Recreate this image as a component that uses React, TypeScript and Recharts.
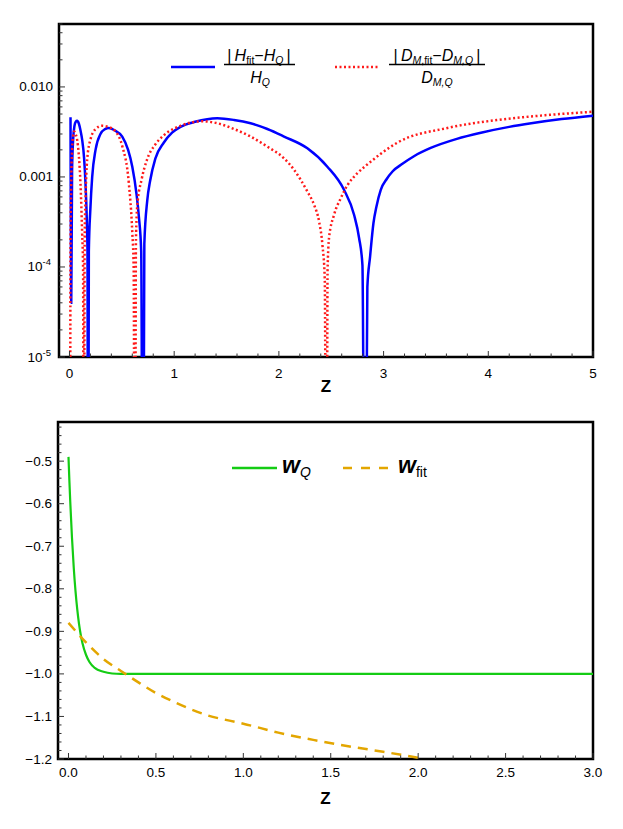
import React from "react";
import { LineChart, Line, XAxis, YAxis, ReferenceArea } from "recharts";

// ---- top panel: relative errors (log scale) ----
const hZ = [
  0.01, 0.017, 0.025, 0.035, 0.048, 0.06, 0.073, 0.09, 0.105, 0.121, 0.14, 0.153, 0.165, 0.172, 0.178,
  0.185, 0.2, 0.217, 0.249, 0.296, 0.34, 0.376, 0.43, 0.504, 0.56, 0.6, 0.64, 0.663, 0.685, 0.702,
  0.715, 0.743, 0.77, 0.82, 0.9, 0.98, 1.06, 1.2, 1.412, 1.571, 1.73, 1.89, 2.049, 2.272, 2.463, 2.622, 2.718, 2.766, 2.798, 2.822,
  2.845, 2.871, 2.903, 2.932, 2.973, 3.03, 3.085, 3.18, 3.29, 3.45, 3.7, 3.93, 4.2, 4.41, 4.7, 5.0,
];
const hErr = [
  4.6e-3, 4.0e-5, 1.2e-3, 2.6e-3, 3.7e-3, 4.1e-3, 4.2e-3, 3.9e-3, 3.3e-3, 2.6e-3, 1.6e-3, 8.5e-4, 3.5e-4, 1.5e-4, 1e-8,
  1.5e-4, 4.5e-4, 1.0e-3, 2.0e-3, 3.0e-3, 3.4e-3, 3.5e-3, 3.3e-3, 2.8e-3, 2.0e-3, 1.3e-3, 6.5e-4, 3.6e-4, 1.5e-4, 1e-8,
  1.8e-4, 5.5e-4, 9.0e-4, 1.6e-3, 2.4e-3, 3.1e-3, 3.6e-3, 4.1e-3, 4.49e-3, 4.3e-3, 3.95e-3, 3.41e-3, 2.81e-3, 2.08e-3, 1.3e-3, 7.2e-4, 3.8e-4, 2.1e-4, 1.05e-4, 1e-8,
  6e-5, 1.3e-4, 3.06e-4, 4.7e-4, 7.2e-4, 9.5e-4, 1.15e-3, 1.4e-3, 1.7e-3, 2.1e-3, 2.65e-3, 3.1e-3, 3.6e-3, 3.95e-3, 4.4e-3, 4.8e-3,
];

const dZ = [
  0.005, 0.01, 0.016, 0.025, 0.035, 0.045, 0.058, 0.073, 0.09, 0.105, 0.121, 0.13, 0.137,
  0.145, 0.153, 0.169, 0.2, 0.249, 0.31, 0.37, 0.44, 0.504, 0.567, 0.6, 0.613, 0.625,
  0.635, 0.647, 0.69, 0.74, 0.82, 0.9, 1.06, 1.27, 1.412, 1.571, 1.73, 1.89, 2.049, 2.145, 2.208, 2.272, 2.336, 2.384, 2.416, 2.438, 2.455,
  2.465, 2.479, 2.527, 2.591, 2.655, 2.75, 2.878, 2.97, 3.13, 3.61, 4.09, 4.5, 5.0,
];
const dErr = [
  1e-8, 1.5e-4, 8e-4, 2.0e-3, 2.9e-3, 3.2e-3, 3.0e-3, 2.6e-3, 1.7e-3, 8.5e-4, 2.4e-4, 1.0e-4, 1e-8,
  2.0e-4, 5.5e-4, 1.55e-3, 2.6e-3, 3.4e-3, 3.7e-3, 3.6e-3, 3.2e-3, 2.2e-3, 8.5e-4, 2.4e-4, 1.0e-4, 1e-8,
  2.0e-4, 4.7e-4, 9.5e-4, 1.55e-3, 2.3e-3, 2.9e-3, 3.7e-3, 4.15e-3, 3.95e-3, 3.41e-3, 2.81e-3, 2.17e-3, 1.61e-3, 1.2e-3, 9.3e-4, 6.9e-4, 4.9e-4, 3.2e-4, 1.75e-4, 7.5e-5, 1e-8,
  9e-5, 2.1e-4, 3.8e-4, 5.8e-4, 8.1e-4, 1.1e-3, 1.48e-3, 1.8e-3, 2.4e-3, 3.5e-3, 4.3e-3, 4.8e-3, 5.3e-3,
];

// ---- bottom panel: equation of state ----
const wQZ = [0, 0.005, 0.01, 0.02, 0.03, 0.04, 0.05, 0.06, 0.07, 0.08, 0.1, 0.12, 0.15, 0.2, 0.25, 0.3, 3.0];
const wQ = [-0.49, -0.545, -0.595, -0.68, -0.75, -0.805, -0.848, -0.882, -0.908, -0.928, -0.955, -0.972, -0.986, -0.995, -0.999, -1.0, -1.0];

const wFitZ = [0, 0.1, 0.2, 0.3, 0.4, 0.5, 0.6, 0.7, 0.8, 0.9, 1.0, 1.2, 1.4, 1.6, 1.8, 2.0];
const wFit = [-0.88, -0.926, -0.965, -0.993, -1.02, -1.045, -1.065, -1.083, -1.098, -1.108, -1.117, -1.138, -1.155, -1.17, -1.183, -1.197];

const topXMajor = [0, 1, 2, 3, 4, 5];
const topYMajor = [1e-5, 1e-4, 1e-3, 1e-2];
const botXMajor = [0, 0.5, 1, 1.5, 2, 2.5, 3];
const botYMajor = [-1.2, -1.1, -1.0, -0.9, -0.8, -0.7, -0.6, -0.5];

const hData = hZ.map((z, i) => ({ z, v: hErr[i] }));
const dData = dZ.map((z, i) => ({ z, v: dErr[i] }));
const wQData = wQZ.map((z, i) => ({ z, v: wQ[i] }));
const wFitData = wFitZ.map((z, i) => ({ z, v: wFit[i] }));

// minor tick positions
const topXTicks: number[] = [];
for (let i = 0; i <= 25; i++) topXTicks.push(+(i * 0.2).toFixed(2));
const topYTicks: number[] = [];
for (let e = -5; e <= -2; e++) {
  for (let m = 1; m <= 9; m++) {
    const v = +(m * Math.pow(10, e)).toPrecision(3);
    if (v <= 0.05) topYTicks.push(v);
  }
}
const botXTicks: number[] = [];
for (let i = 0; i <= 30; i++) botXTicks.push(+(i * 0.1).toFixed(2));
const botYTicks: number[] = [];
for (let i = 0; i <= 39; i++) botYTicks.push(+(-1.2 + i * 0.02).toFixed(2));

const FONT = "'Liberation Sans', Arial, Helvetica, sans-serif";
const BLUE = "#0000ff";
const RED = "#ff1a1a";
const GREEN = "#14cc14";
const ORANGE = "#e3a600";
const TS = "\u2009";

const isMajor = (list: number[], v: number) => list.some((m) => Math.abs(m - v) < 1e-9);

const XTick = (props: any) => {
  const { x, y, payload, majors, dyLabel, fmt } = props;
  const major = isMajor(majors, payload.value);
  return (
    <g>
      <line x1={x} x2={x} y1={y} y2={y - (major ? 6 : 3.5)} stroke="#333" strokeWidth={1} />
      {major && (
        <text x={x} y={y + dyLabel} textAnchor="middle" fontSize={13.5} fontFamily={FONT} fill="#000">
          {fmt(payload.value)}
        </text>
      )}
    </g>
  );
};

const LogYTick = (props: any) => {
  const { x, y, payload } = props;
  const v = payload.value;
  const major = isMajor(topYMajor, v);
  let label: React.ReactNode = null;
  if (major) {
    if (v < 5e-4) {
      const exp = Math.round(Math.log10(v));
      label = (
        <text x={x - 8} y={y + 4.5} textAnchor="end" fontSize={13.5} fontFamily={FONT} fill="#000">
          10
          <tspan dy={-6} fontSize={9.5}>
            {String(exp)}
          </tspan>
        </text>
      );
    } else {
      label = (
        <text x={x - 6} y={y + 4.5} textAnchor="end" fontSize={13.5} fontFamily={FONT} fill="#000">
          {v.toFixed(3)}
        </text>
      );
    }
  }
  return (
    <g>
      <line x1={x} x2={x + (major ? 6 : 3.5)} y1={y} y2={y} stroke="#333" strokeWidth={1} />
      {label}
    </g>
  );
};

const LinYTick = (props: any) => {
  const { x, y, payload } = props;
  const major = isMajor(botYMajor, payload.value);
  return (
    <g>
      <line x1={x} x2={x + (major ? 6 : 3.5)} y1={y} y2={y} stroke="#333" strokeWidth={1} />
      {major && (
        <text x={x - 6} y={y + 4.5} textAnchor="end" fontSize={13.5} fontFamily={FONT} fill="#000">
          {payload.value.toFixed(1).replace("-", "\u2212")}
        </text>
      )}
    </g>
  );
};

const TopLegend = () => (
  <g fontFamily={FONT} fill="#000">
    <line x1={171} x2={215} y1={67} y2={67} stroke={BLUE} strokeWidth={2.5} />
    <text x={259} y={61} textAnchor="middle" fontSize={16}>
      {"|" + TS}
      <tspan fontStyle="italic">H</tspan>
      <tspan fontSize={10.5} dy={3}>fit</tspan>
      <tspan dy={-3}>{"\u2212"}</tspan>
      <tspan fontStyle="italic">H</tspan>
      <tspan fontSize={10.5} dy={3} fontStyle="italic">Q</tspan>
      <tspan dy={-3}>{TS + "|"}</tspan>
    </text>
    <line x1={224} x2={295} y1={64.5} y2={64.5} stroke="#000" strokeWidth={1.4} />
    <text x={260} y={83} textAnchor="middle" fontSize={16}>
      <tspan fontStyle="italic">H</tspan>
      <tspan fontSize={10.5} dy={3} fontStyle="italic">Q</tspan>
    </text>

    <line x1={335} x2={380} y1={67} y2={67} stroke={RED} strokeWidth={2.5} strokeDasharray="2 2.5" />
    <text x={437} y={61} textAnchor="middle" fontSize={16}>
      {"|" + TS}
      <tspan fontStyle="italic">D</tspan>
      <tspan fontSize={10.5} dy={3}>
        <tspan fontStyle="italic">M</tspan>,fit
      </tspan>
      <tspan dy={-3}>{"\u2212"}</tspan>
      <tspan fontStyle="italic">D</tspan>
      <tspan fontSize={10.5} dy={3} fontStyle="italic">M,Q</tspan>
      <tspan dy={-3}>{TS + "|"}</tspan>
    </text>
    <line x1={389} x2={485} y1={64.5} y2={64.5} stroke="#000" strokeWidth={1.4} />
    <text x={437} y={83} textAnchor="middle" fontSize={16}>
      <tspan fontStyle="italic">D</tspan>
      <tspan fontSize={10.5} dy={3} fontStyle="italic">M,Q</tspan>
    </text>
  </g>
);

const BottomLegend = () => (
  <g fontFamily={FONT} fill="#000">
    <line x1={232} x2={277} y1={68} y2={68} stroke={GREEN} strokeWidth={2.5} />
    <text x={282} y={73} fontSize={23}>
      <tspan fontStyle="italic" fontWeight="bold">w</tspan>
      <tspan fontSize={14} dy={4} fontStyle="italic">Q</tspan>
    </text>
    <line x1={343} x2={391} y1={68} y2={68} stroke={ORANGE} strokeWidth={2.5} strokeDasharray="9 9" />
    <text x={398} y={73} fontSize={23}>
      <tspan fontStyle="italic" fontWeight="bold">w</tspan>
      <tspan fontSize={14} dy={4}>fit</tspan>
    </text>
  </g>
);

const zLabel = (offset: number) => ({
  value: "Z",
  position: "insideBottom" as const,
  offset,
  style: { fontSize: 17, fontWeight: "bold", fontFamily: FONT, fill: "#000" },
});

export default function App() {
  return (
    <div style={{ position: "absolute", left: 0, top: 0, width: 623, height: 829, background: "#fff" }}>
      <LineChart width={623} height={400} margin={{ top: 24, right: 30, bottom: 0, left: 0 }}>
        <XAxis
          dataKey="z"
          type="number"
          domain={[-0.1, 5]}
          allowDataOverflow
          ticks={topXTicks}
          interval={0}
          height={43}
          axisLine={false}
          tickLine={false}
          tickSize={0}
          tickMargin={0}
          tick={(p: any) => <XTick {...p} majors={topXMajor} dyLabel={21} fmt={(v: number) => String(v)} />}
          label={zLabel(8)}
        />
        <YAxis
          type="number"
          scale="log"
          domain={[1e-5, 0.05]}
          allowDataOverflow
          ticks={topYTicks}
          interval={0}
          width={59}
          axisLine={false}
          tickLine={false}
          tickSize={0}
          tickMargin={0}
          tick={(p: any) => <LogYTick {...p} />}
        />
        <Line
          data={hData}
          dataKey="v"
          type="monotone"
          stroke={BLUE}
          strokeWidth={2.5}
          dot={false}
          activeDot={false}
          isAnimationActive={false}
        />
        <Line
          data={dData}
          dataKey="v"
          type="monotone"
          stroke={RED}
          strokeWidth={2.5}
          strokeDasharray="2 2.5"
          dot={false}
          activeDot={false}
          isAnimationActive={false}
        />
        <ReferenceArea
          x1={-0.1}
          x2={5}
          y1={1e-5}
          y2={0.05}
          fill="none"
          fillOpacity={0}
          stroke="#000"
          strokeWidth={2.5}
          ifOverflow="visible"
        />
        <TopLegend />
      </LineChart>

      <LineChart width={623} height={429} margin={{ top: 22, right: 30, bottom: 0, left: 0 }}>
        <XAxis
          dataKey="z"
          type="number"
          domain={[-0.06, 3]}
          allowDataOverflow
          ticks={botXTicks}
          interval={0}
          height={70}
          axisLine={false}
          tickLine={false}
          tickSize={0}
          tickMargin={0}
          tick={(p: any) => <XTick {...p} majors={botXMajor} dyLabel={18} fmt={(v: number) => v.toFixed(1)} />}
          label={zLabel(25)}
        />
        <YAxis
          type="number"
          domain={[-1.2, -0.408]}
          allowDataOverflow
          ticks={botYTicks}
          interval={0}
          width={58}
          axisLine={false}
          tickLine={false}
          tickSize={0}
          tickMargin={0}
          tick={(p: any) => <LinYTick {...p} />}
        />
        <Line
          data={wQData}
          dataKey="v"
          type="monotone"
          stroke={GREEN}
          strokeWidth={2.2}
          dot={false}
          activeDot={false}
          isAnimationActive={false}
        />
        <Line
          data={wFitData}
          dataKey="v"
          type="monotone"
          stroke={ORANGE}
          strokeWidth={2.5}
          strokeDasharray="10 7"
          dot={false}
          activeDot={false}
          isAnimationActive={false}
        />
        <ReferenceArea
          x1={-0.06}
          x2={3}
          y1={-1.2}
          y2={-0.408}
          fill="none"
          fillOpacity={0}
          stroke="#000"
          strokeWidth={2.5}
          ifOverflow="visible"
        />
        <BottomLegend />
      </LineChart>
    </div>
  );
}
